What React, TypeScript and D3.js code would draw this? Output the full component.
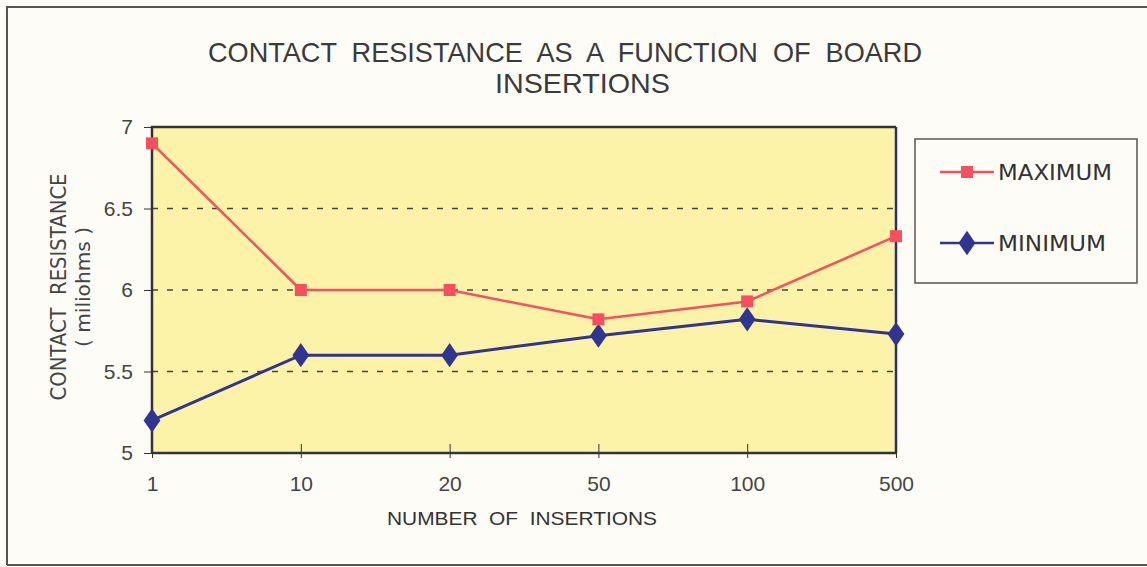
import * as d3 from "d3"
import { useRef, useEffect } from "react"

// values
const insertions = ["1", "10", "20", "50", "100", "500"]
const maximum = [6.9, 6.0, 6.0, 5.82, 5.93, 6.33]
const minimum = [5.2, 5.6, 5.6, 5.72, 5.82, 5.73]
const yTicks = [5, 5.5, 6, 6.5, 7]
const seriesNames = ["MAXIMUM", "MINIMUM"]

const W = 1147
const H = 567
const plot = { left: 152, right: 896, top: 127, bottom: 453 }
const sans = "'DejaVu Sans', Verdana, sans-serif"
const lib = "'Liberation Sans', Arial, sans-serif"
const red = "#f5505f"
const navy = "#2f3590"
const pre = { whiteSpace: "pre" as const }

export default function App() {
  const xAxisRef = useRef<SVGGElement>(null)
  const yAxisRef = useRef<SVGGElement>(null)

  const x = d3.scalePoint().domain(insertions).range([plot.left, plot.right])
  const y = d3.scaleLinear().domain([5, 7]).range([plot.bottom, plot.top])

  const line = d3.line<number>()
    .x((_, i) => x(insertions[i])!)
    .y(d => y(d))

  useEffect(() => {
    const xa = d3.select(xAxisRef.current!)
    xa.call(d3.axisBottom(x).tickSize(14).tickPadding(9) as any)
    xa.select(".domain").remove()
    xa.selectAll(".tick line").attr("stroke", "#333").attr("transform", "translate(0,-9)")
    xa.selectAll(".tick text").attr("font-family", lib).attr("font-size", 21).attr("fill", "#444")

    const ya = d3.select(yAxisRef.current!)
    ya.call(d3.axisLeft(y).tickValues(yTicks).tickFormat(d3.format("")).tickSize(8).tickPadding(11) as any)
    ya.select(".domain").remove()
    ya.selectAll(".tick line").attr("stroke", "#333")
    ya.selectAll(".tick text").attr("font-family", lib).attr("font-size", 21).attr("fill", "#444")
  }, [])

  const diamond = d3.symbol().type(d3.symbolDiamond).size(170)

  return (
    <svg width={W} height={H} style={{ position: "absolute", left: 0, top: 0, background: "#fdfcf7" }}>
      <rect x={0} y={0} width={W} height={H} fill="#fdfcf7" />
      {/* outer frame */}
      <path d={`M7,565 L7,7 L${W},7 M7,565 L${W},565`} fill="none" stroke="#555" strokeWidth={2} />

      <text x={208} y={62} textLength={714} lengthAdjust="spacingAndGlyphs" style={pre}
        fontFamily={lib} fontSize={28} fill="#3a3a3a">
        {"CONTACT  RESISTANCE  AS  A  FUNCTION  OF  BOARD"}
      </text>
      <text x={495} y={93} textLength={175} lengthAdjust="spacingAndGlyphs"
        fontFamily={lib} fontSize={28} fill="#3a3a3a">
        INSERTIONS
      </text>

      <rect x={plot.left} y={plot.top} width={plot.right - plot.left} height={plot.bottom - plot.top} fill="#fdf3a8" />

      {yTicks.filter(t => t > 5 && t < 7).map(t => (
        <line key={t} x1={plot.left} x2={plot.right} y1={y(t)} y2={y(t)}
          stroke="#444" strokeWidth={1.5} strokeDasharray="6,9" />
      ))}

      <path d={`M${plot.left},${plot.bottom} V${plot.top} H${plot.right}`} fill="none" stroke="#333" strokeWidth={2.5} />
      <line x1={plot.right} x2={plot.right} y1={plot.top} y2={plot.bottom} stroke="#26306e" strokeWidth={2.5} />
      <line x1={plot.left} x2={plot.right} y1={plot.bottom} y2={plot.bottom} stroke="#333" strokeWidth={2.5} />

      <g ref={xAxisRef} transform={`translate(0,${plot.bottom})`} />
      <g ref={yAxisRef} transform={`translate(${plot.left},0)`} />

      <path d={line(minimum)!} fill="none" stroke={navy} strokeWidth={3} />
      {minimum.map((v, i) => (
        <path key={i} d={diamond()!} transform={`translate(${x(insertions[i])},${y(v)}) scale(1.2,1)`} fill={navy} />
      ))}
      <path d={line(maximum)!} fill="none" stroke={red} strokeWidth={2.5} />
      {maximum.map((v, i) => (
        <rect key={i} x={x(insertions[i])! - 6} y={y(v) - 6} width={12} height={12} fill={red} />
      ))}

      <text transform="translate(66,287) rotate(-90)" textAnchor="middle" textLength={227} lengthAdjust="spacingAndGlyphs"
        style={pre} fontFamily={sans} fontSize={21} fill="#444">
        {"CONTACT  RESISTANCE"}
      </text>
      <text transform="translate(90,287) rotate(-90)" textAnchor="middle" textLength={120} lengthAdjust="spacingAndGlyphs"
        style={pre} fontFamily={sans} fontSize={20} fill="#444">
        {"( miliohms )"}
      </text>
      <text x={387} y={525} textLength={270} lengthAdjust="spacingAndGlyphs" style={pre}
        fontFamily={lib} fontSize={19} fill="#333">
        {"NUMBER  OF  INSERTIONS"}
      </text>

      {/* legend */}
      <rect x={915} y={139} width={222} height={144} fill="none" stroke="#555" strokeWidth={1.5} />
      {seriesNames.map((name, i) => {
        const ly = i === 0 ? 172 : 243
        const c = i === 0 ? red : navy
        return (
          <g key={name}>
            <line x1={940} x2={994} y1={ly} y2={ly} stroke={c} strokeWidth={2.5} />
            {i === 0
              ? <rect x={961} y={ly - 6} width={12} height={12} fill={c} />
              : <path d={diamond()!} transform={`translate(967,${ly}) scale(1.2,1)`} fill={c} />}
            <text x={998} y={ly + 8} textLength={i === 0 ? 114 : 108} lengthAdjust="spacingAndGlyphs"
              fontFamily={sans} fontSize={21} fill="#333">{name}</text>
          </g>
        )
      })}
    </svg>
  )
}
